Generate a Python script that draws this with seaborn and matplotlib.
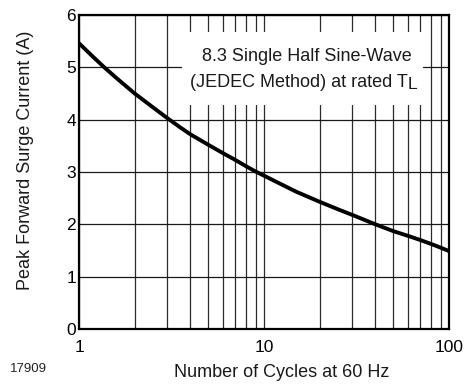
import matplotlib
matplotlib.use("Agg")
import matplotlib.pyplot as plt
from matplotlib.patches import Rectangle
from matplotlib.ticker import FixedLocator, NullFormatter, FixedFormatter
import seaborn as sns
import pandas as pd

# Data
cycles = [1, 1.2, 1.37, 1.6, 2, 2.5, 3, 3.5, 4, 5, 6, 7, 8, 9, 10,
          12, 15, 20, 25, 30, 40, 50, 60, 70, 85, 100]
current = [5.46, 5.19, 5.00, 4.79, 4.50, 4.24, 4.03, 3.86, 3.72, 3.52, 3.36, 3.23, 3.11, 3.01, 2.93,
           2.79, 2.62, 2.43, 2.29, 2.18, 2.00, 1.87, 1.78, 1.70, 1.59, 1.49]
x_major = [1, 10, 100]
x_major_labels = ["1", "10", "100"]
x_minor = [2, 3, 4, 5, 6, 7, 8, 9, 20, 30, 40, 50, 60, 70, 80, 90]
y_ticks = [0, 1, 2, 3, 4, 5, 6]

sns.set_theme(style="white")
plt.rcParams["font.family"] = ["Liberation Sans", "DejaVu Sans"]

df = pd.DataFrame({"cycles": cycles, "current": current})

fig = plt.figure(figsize=(4.69, 3.87), dpi=100)
ax = fig.add_axes([79 / 469, 1 - 329 / 387, 370 / 469, 314 / 387])

sns.lineplot(data=df, x="cycles", y="current", ax=ax, color="black",
             linewidth=2.8, zorder=3)

ax.set_xscale("log")
ax.set_xlim(1, 100)
ax.set_ylim(0, 6)

ax.xaxis.set_major_locator(FixedLocator(x_major))
ax.xaxis.set_major_formatter(FixedFormatter(x_major_labels))
ax.xaxis.set_minor_locator(FixedLocator(x_minor))
ax.xaxis.set_minor_formatter(NullFormatter())
ax.set_yticks(y_ticks)

ax.grid(True, which="both", axis="x", color="#2a2a2a", linewidth=0.9, zorder=0.5)
ax.grid(True, which="major", axis="y", color="#1a1a1a", linewidth=0.9, zorder=0.5)
ax.set_axisbelow(True)

ax.tick_params(axis="both", which="both", length=0, labelsize=12.5, colors="black")
ax.tick_params(axis="x", pad=8)
ax.tick_params(axis="y", pad=2)

for s in ax.spines.values():
    s.set_visible(True)
    s.set_color("black")
    s.set_linewidth(1.6)
    s.set_zorder(5)

ax.set_xlabel("Number of Cycles at 60 Hz", fontsize=13, color="#1a1a1a")
ax.set_ylabel("Peak Forward Surge Current (A)", fontsize=13, color="#1a1a1a")
ax.xaxis.set_label_coords(0.548, -0.112)
ax.yaxis.set_label_coords(-0.122, 0.538)

# White box behind annotation
ax.add_patch(Rectangle((0.278, 0.713), 0.652, 0.233, transform=ax.transAxes,
                       facecolor="white", edgecolor="none", zorder=1))
ax.text(0.616, 0.8535, "8.3 Single Half Sine-Wave", transform=ax.transAxes,
        ha="center", va="baseline", fontsize=13, color="#1a1a1a", zorder=4)
ax.text(0.8873, 0.7717, "(JEDEC Method) at rated T", transform=ax.transAxes,
        ha="right", va="baseline", fontsize=13, color="#1a1a1a", zorder=4)
ax.text(0.8873, 0.7634, "L", transform=ax.transAxes,
        ha="left", va="baseline", fontsize=12.5, color="#1a1a1a", zorder=4)

fig.text(10 / 469, 1 - 369 / 387, "17909", fontsize=9.5, ha="left", va="center",
         color="#222222")

fig.savefig("out.png", dpi=100)
